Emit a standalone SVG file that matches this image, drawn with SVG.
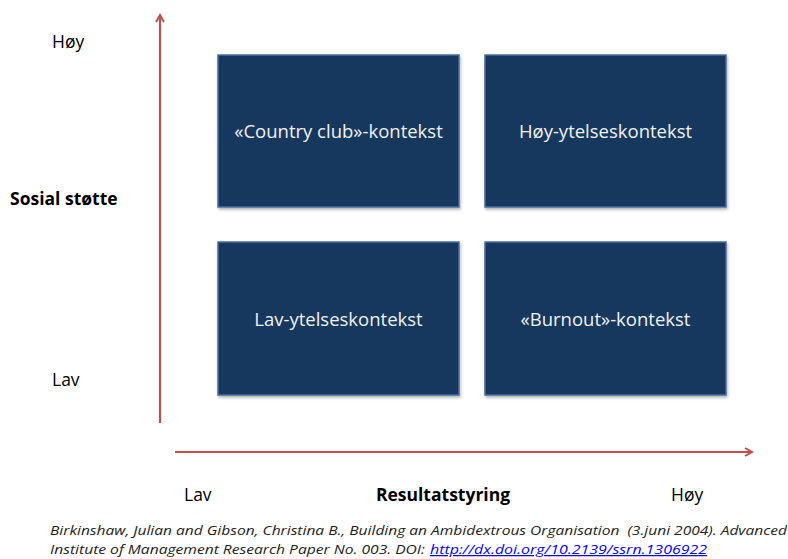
<svg xmlns="http://www.w3.org/2000/svg" width="788" height="559" viewBox="0 0 788 559">
<defs>
<marker id="arr" markerWidth="10" markerHeight="10" refX="8" refY="5" orient="auto" markerUnits="userSpaceOnUse">
<path d="M1,1 L8,5 L1,9" fill="none" stroke="#C0504D" stroke-width="2"/>
</marker>
<filter id="sh" x="-5%" y="-5%" width="115%" height="115%">
<feGaussianBlur in="SourceAlpha" stdDeviation="1.5"/>
<feOffset dx="1" dy="2"/>
<feComponentTransfer><feFuncA type="linear" slope="0.3"/></feComponentTransfer>
<feMerge><feMergeNode/><feMergeNode in="SourceGraphic"/></feMerge>
</filter>
</defs>
<style>
.box{fill:#17375E;stroke:#4A6EA0;stroke-width:1.5;filter:url(#sh)}
.bt{fill:#F2F2F2;font-family:"Open Sans","Liberation Sans",sans-serif;font-size:18.5px;text-anchor:middle}
.ax{fill:#000;font-family:"Open Sans","Liberation Sans",sans-serif;font-size:17.5px}
.axb{fill:#000;font-family:"Open Sans","Liberation Sans",sans-serif;font-size:17.5px;font-weight:bold}
.cit{fill:#222;font-family:"Open Sans","Liberation Sans",sans-serif;font-size:12.5px;font-style:italic}
.conn{stroke:#C0504D;stroke-width:2.2;fill:none}
</style>
<rect width="788" height="559" fill="#fff"/>
<g id="connectors">
<line class="conn" x1="160" y1="423" x2="160" y2="15" marker-end="url(#arr)"/>
<line class="conn" x1="175" y1="452" x2="752" y2="452" marker-end="url(#arr)"/>
</g>
<g id="country-club">
<rect class="box" x="218" y="55" width="241" height="152"/>
<text class="bt" x="338.5" y="138">«Country club»-kontekst</text>
</g>
<g id="hoy-ytelse">
<rect class="box" x="485" y="55" width="241" height="152"/>
<text class="bt" x="605.5" y="138">Høy-ytelseskontekst</text>
</g>
<g id="lav-ytelse">
<rect class="box" x="218" y="242" width="241" height="153"/>
<text class="bt" x="338.5" y="326">Lav-ytelseskontekst</text>
</g>
<g id="burnout">
<rect class="box" x="485" y="242" width="241" height="153"/>
<text class="bt" x="605.5" y="326">«Burnout»-kontekst</text>
</g>
<g id="labels">
<text class="ax" x="52" y="48">Høy</text>
<text class="axb" x="10" y="205">Sosial støtte</text>
<text class="ax" x="52" y="386">Lav</text>
<text class="ax" x="184" y="501">Lav</text>
<text class="axb" x="443" y="501" text-anchor="middle">Resultatstyring</text>
<text class="ax" x="671" y="501">Høy</text>
</g>
<g id="citation">
<text class="cit" x="50" y="535" xml:space="preserve" textLength="737" lengthAdjust="spacingAndGlyphs">Birkinshaw, Julian and Gibson, Christina B., Building an Ambidextrous Organisation  (3.juni 2004). Advanced</text>
<text class="cit" x="50" y="554" textLength="375" lengthAdjust="spacingAndGlyphs">Institute of Management Research Paper No. 003. DOI:</text>
<text class="cit" x="430" y="554" style="fill:#0000FF" text-decoration="underline" textLength="277" lengthAdjust="spacingAndGlyphs">http://dx.doi.org/10.2139/ssrn.1306922</text>
</g>
</svg>
